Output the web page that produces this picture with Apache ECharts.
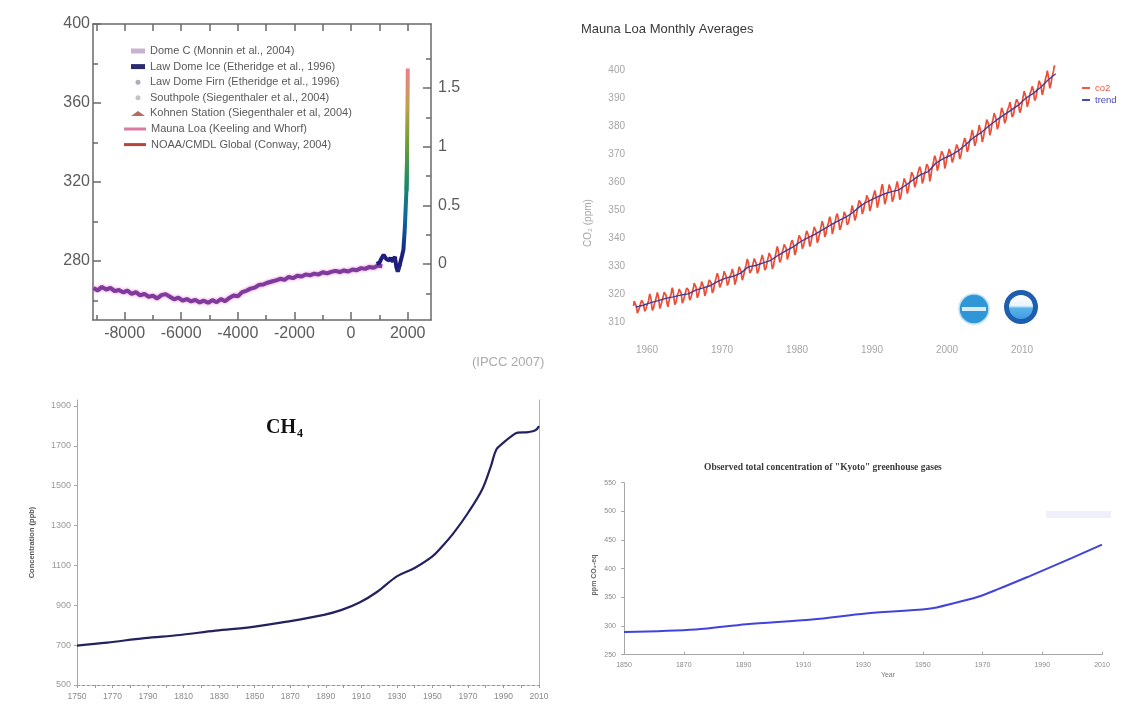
<!DOCTYPE html>
<html>
<head>
<meta charset="utf-8">
<script src="https://cdn.jsdelivr.net/npm/echarts@6/dist/echarts.min.js"></script>
<style>
html,body{margin:0;padding:0;background:#fff;}
#chart{width:1125px;height:714px;}
</style>
</head>
<body>
<div id="chart"></div>
<script>
// ---------- Holocene CO2 record (ppm) ----------
const domeC = [[-9100,266.2],[-8950,265.0],[-8800,266.8],[-8650,265.4],[-8500,266.3],[-8350,264.6],[-8200,265.2],[-8050,264.0],[-7900,264.9],[-7750,263.2],[-7600,264.1],[-7450,262.5],[-7300,263.3],[-7150,261.7],[-7000,262.4],[-6850,260.9],[-6700,262.6],[-6550,263.1],[-6400,261.8],[-6250,260.5],[-6100,261.3],[-5950,259.8],[-5800,260.6],[-5650,259.4],[-5500,260.2],[-5350,258.9],[-5200,259.8],[-5050,258.7],[-4900,260.1],[-4750,259.0],[-4600,260.6],[-4450,259.5],[-4300,261.2],[-4150,262.4],[-4000,262.0],[-3850,264.1],[-3700,264.8],[-3550,265.9],[-3400,266.4],[-3250,267.8],[-3100,268.0],[-2950,268.9],[-2800,269.5],[-2650,270.1],[-2500,270.9],[-2350,270.3],[-2200,271.8],[-2050,271.2],[-1900,272.4],[-1750,272.0],[-1600,273.1],[-1450,272.6],[-1300,273.5],[-1150,273.0],[-1000,274.2],[-850,273.6],[-700,274.4],[-550,274.9],[-400,274.3],[-250,275.1],[-100,274.6],[50,275.6],[200,275.2],[350,276.3],[500,275.9],[650,276.9],[800,276.5],[950,277.6],[1100,277.2]];
const lawDomeIce = [[900,278.4],[1000,279.0],[1050,280.5],[1100,281.8],[1150,283.0],[1200,282.0],[1250,280.8],[1300,281.6],[1350,280.2],[1400,281.5],[1450,279.8],[1500,280.9],[1550,282.1],[1600,276.8],[1650,274.5],[1700,276.9],[1750,277.4],[1800,282.6],[1850,285.6],[1900,296.8],[1940,310.4],[1960,316.9],[1978,331.2]];
const lawDomeFirn = [[1890,294.5],[1925,303.5],[1955,313.8],[1970,325.0],[1985,344.5],[1993,356.2]];
const southpole = [[1300,281.0],[1550,280.5],[1650,275.2],[1750,277.9]];
const kohnen = [[1150,281.9],[1450,279.6],[1700,276.1]];
const maunaLoaAnnual = [[1958,315.3],[1960,316.9],[1965,320.0],[1970,325.7],[1975,331.1],[1980,338.7],[1985,346.1],[1990,354.4],[1995,360.8],[2000,369.6],[2004,377.5]];
const noaaGlobal = [[1980,338.9],[1985,345.4],[1990,353.9],[1995,359.9],[2000,368.9],[2004,376.8]];
const holoXMajor = [-8000,-6000,-4000,-2000,0,2000];
const holoXMinor = [-9000,-7000,-5000,-3000,-1000,1000];
const holoXTop = [-9000,-8000,-7000,-6000,-5000,-4000,-3000,-2000,-1000,0,1000,2000];
const holoYMajor = [280,320,360,400];
const holoYMinor = [260,300,340,380];
const forcingMajor = [0,0.5,1,1.5];
const forcingMinor = [-0.25,0.25,0.75,1.25,1.75];

// ---------- Mauna Loa monthly means, Mar 1958 - Jun 2014 (ppm) ----------
const co2FirstMonth = 1958 + 2/12;
const co2Monthly = [
 315.71,317.45,317.50,317.10,315.86,314.93,313.20,312.66,313.33,314.67,
 315.62,316.38,316.71,317.72,318.29,318.15,316.54,314.80,313.84,313.26,314.80,315.58,
 316.43,316.97,317.58,319.02,320.03,319.59,318.18,315.91,314.16,313.83,315.00,316.19,
 316.93,317.70,318.54,319.48,320.58,319.77,318.57,316.79,314.80,315.38,316.10,317.01,
 317.94,318.56,319.68,320.63,321.01,320.55,319.58,317.40,316.26,315.42,316.69,317.69,
 318.74,319.08,319.86,321.39,322.25,321.47,319.74,317.77,316.21,315.99,317.12,318.31,
 319.57,320.07,320.73,321.77,322.25,321.89,320.44,318.70,316.70,316.79,317.79,318.71,
 319.44,320.44,320.89,322.13,322.16,321.87,321.39,318.81,317.81,317.30,318.87,319.42,
 320.62,321.59,322.39,323.87,324.01,323.75,322.39,320.37,318.64,318.10,319.79,321.08,
 322.07,322.50,323.04,324.42,325.00,324.09,322.55,320.92,319.31,319.31,320.72,321.96,
 322.57,323.15,323.89,325.02,325.57,325.36,324.14,322.03,320.41,320.25,321.31,322.84,
 324.00,324.42,325.64,326.66,327.38,326.70,325.89,323.67,322.38,321.78,322.85,324.11,
 325.03,325.99,326.87,328.13,328.07,327.66,326.35,324.69,323.10,323.16,323.98,325.13,
 326.17,326.68,327.18,327.78,328.92,328.57,327.34,325.46,323.36,323.57,324.80,326.01,
 326.77,327.63,327.75,329.72,330.07,329.09,328.05,326.32,324.93,325.06,326.50,327.55,
 328.54,329.56,330.30,331.50,332.48,332.07,330.87,329.31,327.51,327.18,328.16,328.64,
 329.35,330.71,331.48,332.65,333.20,332.16,331.07,329.12,327.32,327.28,328.30,329.58,
 330.73,331.46,331.90,333.17,333.94,333.45,331.97,329.95,328.50,328.34,329.37,330.58,
 331.59,332.75,333.52,334.64,334.77,334.00,333.06,330.68,328.95,328.75,330.15,331.62,
 332.66,333.13,334.95,336.13,336.93,336.17,334.88,332.56,331.29,331.27,332.41,333.60,
 334.95,335.25,336.66,337.69,338.03,338.01,336.41,334.41,332.37,332.41,333.75,334.90,
 336.14,336.69,338.27,338.95,339.21,339.26,337.54,335.75,333.98,334.19,335.31,336.81,
 337.90,338.34,340.01,340.93,341.48,341.33,339.40,337.70,336.19,336.15,337.27,338.32,
 339.29,340.55,341.61,342.53,343.03,342.54,340.78,338.44,336.95,337.08,338.58,339.88,
 340.96,341.73,342.81,343.97,344.63,343.79,342.32,340.09,338.28,338.29,339.60,340.90,
 341.68,342.90,343.33,345.25,346.03,345.63,344.19,342.27,340.35,340.38,341.59,343.05,
 344.10,344.79,345.52,346.84,347.63,346.97,345.53,343.55,341.40,341.67,343.10,344.70,
 345.21,346.16,347.74,348.33,348.73,348.16,346.48,344.70,342.92,342.62,344.06,345.38,
 346.11,346.78,347.68,349.37,350.03,349.37,347.76,345.73,344.68,343.99,345.48,346.72,
 347.84,348.29,349.23,350.80,351.66,351.07,349.33,347.92,346.27,346.18,347.64,348.78,
 350.25,351.54,352.05,353.41,354.04,353.62,352.22,350.27,348.55,348.72,349.91,351.18,
 352.60,352.92,353.53,355.26,355.52,354.97,353.75,351.52,349.64,349.83,351.14,352.37,
 353.50,354.55,355.23,356.04,357.00,356.07,354.67,352.76,350.82,351.04,352.69,354.07,
 354.59,355.63,357.03,358.48,359.22,358.12,356.06,353.92,352.05,352.11,353.64,354.89,
 355.88,356.63,357.72,359.07,359.58,359.17,356.94,354.92,352.94,353.23,354.09,355.33,
 356.63,357.10,358.32,359.41,360.23,359.55,357.53,355.48,353.67,353.95,355.30,356.78,
 358.34,358.89,359.95,361.25,361.67,360.94,359.55,357.49,355.84,356.00,357.59,359.05,
 359.98,361.03,361.66,363.48,363.82,363.30,361.94,359.50,358.11,357.80,359.61,360.74,
 362.09,363.29,364.06,364.76,365.45,365.01,363.70,361.54,359.51,359.65,360.80,362.38,
 363.23,364.06,364.61,366.40,366.84,365.68,364.52,362.57,360.24,360.83,362.49,364.34,
 365.27,365.98,367.24,368.66,369.42,368.99,367.82,365.95,364.02,364.40,365.52,367.13,
 368.18,369.07,369.68,370.99,370.96,370.30,369.45,366.90,364.81,365.37,366.72,368.10,
 369.29,369.54,370.60,371.82,371.58,371.70,369.86,368.13,367.00,367.03,368.37,369.67,
 370.59,371.51,372.43,373.37,373.85,373.22,371.50,369.61,368.18,368.45,369.76,371.24,
 372.53,373.20,374.12,375.02,375.76,375.52,374.01,371.85,370.75,370.55,372.25,373.79,
 374.88,375.64,376.45,377.73,378.60,377.96,376.28,374.23,372.95,373.08,374.39,375.96,
 377.00,377.87,378.88,380.35,380.62,379.69,377.47,376.01,374.25,374.46,376.16,377.51,
 378.46,379.73,380.77,382.29,382.45,382.21,380.74,378.74,376.70,377.00,378.35,380.11,
 381.38,382.19,382.67,384.61,385.03,384.05,382.46,380.41,378.85,379.13,380.15,381.82,
 382.89,383.90,384.58,386.50,386.56,386.10,384.50,381.99,380.96,381.12,382.45,383.95,
 385.52,385.82,386.03,387.21,388.54,387.76,386.36,384.09,383.18,382.99,384.19,385.56,
 386.94,387.48,388.82,389.55,390.14,389.48,388.03,386.11,384.74,384.43,386.02,387.42,
 388.71,390.20,391.17,392.46,393.00,392.15,390.20,388.35,386.85,387.24,388.67,389.79,
 391.33,391.86,392.60,393.25,394.19,393.74,392.51,390.13,389.08,389.00,390.28,391.86,
 393.12,393.86,394.40,396.18,396.74,395.71,394.36,392.39,391.11,391.05,392.98,394.34,
 395.55,396.80,397.43,398.41,399.78,398.60,397.32,395.20,393.45,393.70,395.16,396.84,
 397.85,398.01,399.77,401.38,401.78,401.25
];
const trendFirstYear = 1958;
const co2Trend = [315.3,315.98,316.91,317.64,318.45,318.99,319.62,320.04,321.37,322.18,323.05,324.62,325.68,326.32,327.45,329.68,330.18,331.11,332.04,333.83,335.40,336.84,338.75,340.11,341.45,343.05,344.65,346.12,347.42,349.19,351.57,353.12,354.39,355.61,356.45,357.10,358.83,360.82,362.61,363.73,366.70,368.38,369.55,371.14,373.28,375.80,377.52,379.80,381.90,383.79,385.60,387.43,389.90,391.65,393.85,396.52,398.65];
const mloYTicks = [310,320,330,340,350,360,370,380,390,400];
const mloXTicks = [1960,1970,1980,1990,2000,2010];

// ---------- Methane (ppb) ----------
const ch4Years  = [1750,1767,1788,1808,1828,1848,1869,1889,1899,1909,1919,1930,1940,1950,1956,1962,1970,1978,1983,1986,1990,1994,1998,2004,2008,2010];
const ch4Values = [698,713,735,751,773,790,819,852,877,914,968,1045,1087,1145,1200,1263,1363,1481,1600,1682,1716,1745,1766,1769,1778,1799];
const ch4YTicks = [500,700,900,1100,1300,1500,1700,1900];
const ch4XTicks = [1750,1770,1790,1810,1830,1850,1870,1890,1910,1930,1950,1970,1990,2010];
const ch4XMinor = [1760,1780,1800,1820,1840,1860,1880,1900,1920,1940,1960,1980,2000];

// ---------- Kyoto gases, CO2-equivalent (ppm) ----------
const kyotoYears  = [1850,1874,1891,1913,1931,1952,1961,1968,1975,1986,1993,2000,2010];
const kyotoValues = [289.4,293.8,303.1,311.3,321.9,330.0,340.6,350.0,363.8,387.5,403.0,418.8,441.9];
const kyotoYTicks = [250,300,350,400,450,500,550];
const kyotoXTicks = [1850,1870,1890,1910,1930,1950,1970,1990,2010];

// ---------- build ----------
const SANS = 'Liberation Sans, Arial, sans-serif';
const SERIF = 'Liberation Serif, Times New Roman, serif';
const zip = (xs, ys) => xs.map((x, i) => [x, ys[i]]);
const plain = v => String(v);
const co2Data = co2Monthly.map((v, i) => [co2FirstMonth + (i + 0.5) / 12, v]);
const trendData = co2Trend.map((v, i) => [trendFirstYear + i + 0.5, v]);

const frame = '#6a6a6a';
const frameLine = {onZero: false, lineStyle: {color: frame, width: 1.5}};
const holoLabel = {fontSize: 16, color: '#5c5c5c', fontFamily: SANS, formatter: plain};
const none = {show: false};

function ax(o) {
  return Object.assign({type: 'value', splitLine: none, axisLine: {show: false, onZero: false}}, o);
}

const option = {
  animation: false,
  backgroundColor: '#ffffff',
  textStyle: {fontFamily: SANS},
  grid: [
    {left: 93, top: 24, width: 338, height: 296, outerBoundsMode: 'none'},
    {left: 632, top: 56, width: 427.5, height: 280, outerBoundsMode: 'none'},
    {left: 77, top: 400, width: 462, height: 285, outerBoundsMode: 'none'},
    {left: 624, top: 482.7, width: 478, height: 171.9, outerBoundsMode: 'none'}
  ],
  xAxis: [
    ax({gridIndex: 0, min: -9116, max: 2824, position: 'bottom', axisLine: frameLine,
        axisTick: {inside: true, length: 8, customValues: holoXMajor, lineStyle: {color: frame, width: 1.5}},
        axisLabel: Object.assign({customValues: holoXMajor, margin: 6}, holoLabel)}),
    ax({gridIndex: 0, min: -9116, max: 2824, position: 'bottom',
        axisTick: {inside: true, length: 5, customValues: holoXMinor, lineStyle: {color: frame, width: 1.5}},
        axisLabel: none}),
    ax({gridIndex: 0, min: -9116, max: 2824, position: 'top', axisLine: frameLine,
        axisTick: {inside: true, length: 7, customValues: holoXTop, lineStyle: {color: frame, width: 1.5}},
        axisLabel: none}),
    ax({gridIndex: 1, min: 1958, max: 2015, axisTick: none,
        axisLabel: {customValues: mloXTicks, fontSize: 10, color: '#a6a6a6', margin: 9, formatter: plain}}),
    ax({gridIndex: 2, min: 1750, max: 2010,
        axisLine: {show: true, onZero: false, lineStyle: {color: '#9a9a9a', width: 1, type: [3, 2]}},
        axisTick: {show: true, length: 3, customValues: ch4XMinor.concat(ch4XTicks), lineStyle: {color: '#9a9a9a'}},
        axisLabel: {customValues: ch4XTicks, fontSize: 8.5, color: '#8a8a8a', margin: 7, formatter: plain}}),
    ax({gridIndex: 3, min: 1850, max: 2010,
        axisLine: {show: true, onZero: false, lineStyle: {color: '#a8a8a8', width: 1}},
        axisTick: {show: true, inside: true, length: 3, customValues: kyotoXTicks, lineStyle: {color: '#a8a8a8'}},
        axisLabel: {customValues: kyotoXTicks, fontSize: 7, color: '#8a8a8a', margin: 7, formatter: plain}})
  ],
  yAxis: [
    ax({gridIndex: 0, min: 250, max: 400, position: 'left', axisLine: frameLine,
        axisTick: {inside: true, length: 8, customValues: holoYMajor, lineStyle: {color: frame, width: 1.5}},
        axisLabel: Object.assign({customValues: holoYMajor, margin: 3}, holoLabel)}),
    ax({gridIndex: 0, min: 250, max: 400, position: 'left',
        axisTick: {inside: true, length: 5, customValues: holoYMinor, lineStyle: {color: frame, width: 1.5}},
        axisLabel: none}),
    ax({gridIndex: 0, min: -0.477, max: 2.046, position: 'right', axisLine: frameLine,
        axisTick: {inside: true, length: 8, customValues: forcingMajor, lineStyle: {color: frame, width: 1.5}},
        axisLabel: Object.assign({customValues: forcingMajor, margin: 7}, holoLabel)}),
    ax({gridIndex: 0, min: -0.477, max: 2.046, position: 'right',
        axisTick: {inside: true, length: 5, customValues: forcingMinor, lineStyle: {color: frame, width: 1.5}},
        axisLabel: none}),
    ax({gridIndex: 1, min: 305, max: 405, axisTick: none,
        axisLabel: {customValues: mloYTicks, fontSize: 10, color: '#a6a6a6', margin: 7, formatter: plain}}),
    ax({gridIndex: 2, min: 500, max: 1930, position: 'left',
        axisLine: {show: true, onZero: false, lineStyle: {color: '#a8a8a8', width: 1}},
        axisTick: {show: true, length: 3, customValues: ch4YTicks, lineStyle: {color: '#a8a8a8'}},
        axisLabel: {customValues: ch4YTicks, fontSize: 9, color: '#9a9a9a', margin: 6, formatter: plain},
        name: 'Concentration (ppb)', nameLocation: 'middle', nameGap: 41,
        nameTextStyle: {fontSize: 7.5, fontWeight: 'bold', color: '#555'}}),
    ax({gridIndex: 2, min: 500, max: 1930, position: 'right',
        axisLine: {show: true, onZero: false, lineStyle: {color: '#b0b0b0', width: 1}},
        axisTick: none, axisLabel: none}),
    ax({gridIndex: 3, min: 250, max: 550, position: 'left',
        axisLine: {show: true, onZero: false, lineStyle: {color: '#a8a8a8', width: 1}},
        axisTick: {show: true, length: 3, customValues: kyotoYTicks, lineStyle: {color: '#a8a8a8'}},
        axisLabel: {customValues: kyotoYTicks, fontSize: 7, color: '#8a8a8a', margin: 8, formatter: plain}})
  ],
  visualMap: {
    type: 'continuous', show: false, seriesIndex: [1, 2, 5, 6], dimension: 1,
    min: 282, max: 378,
    inRange: {color: ['#1c1c7e', '#0a6aa0', '#1d8c62', '#6f9d35', '#c0a050', '#f27c8c']}
  },
  legend: [
    {
      orient: 'vertical', left: 131, top: 45, padding: 0, itemGap: 3.6,
      itemWidth: 14, itemHeight: 5, selectedMode: false,
      textStyle: {fontSize: 11, lineHeight: 12, color: '#5a5a5a'},
      data: [
        {name: 'Dome C (Monnin et al., 2004)', icon: 'rect', itemStyle: {color: '#c7b3cf'}},
        {name: 'Law Dome Ice (Etheridge et al., 1996)', icon: 'rect', itemStyle: {color: '#2b2b72'}},
        {name: 'Law Dome Firn (Etheridge et al., 1996)', icon: 'circle', itemStyle: {color: '#9a9aaa'}},
        {name: 'Southpole (Siegenthaler et al., 2004)', icon: 'circle', itemStyle: {color: '#b4b4c2'}},
        {name: 'Kohnen Station (Siegenthaler et al, 2004)', icon: 'triangle', itemStyle: {color: '#a04a3a'}}
      ]
    },
    {
      orient: 'vertical', left: 124, top: 123, padding: 0, itemGap: 3.6,
      itemWidth: 22, itemHeight: 3, symbolKeepAspect: false, selectedMode: false,
      textStyle: {fontSize: 11, lineHeight: 12, color: '#5a5a5a'},
      data: [
        {name: 'Mauna Loa (Keeling and Whorf)', icon: 'rect', itemStyle: {color: '#d97aa4'}},
        {name: 'NOAA/CMDL Global (Conway, 2004)', icon: 'rect', itemStyle: {color: '#b8453c'}}
      ]
    },
    {
      orient: 'vertical', left: 1082, top: 82.5, padding: 0, itemGap: 1,
      itemWidth: 8, itemHeight: 2, symbolKeepAspect: false, selectedMode: false,
      textStyle: {fontSize: 9.5, lineHeight: 11},
      data: [
        {name: 'co2', icon: 'rect', itemStyle: {color: '#ee5a40'}, textStyle: {color: '#e8563f'}},
        {name: 'trend', icon: 'rect', itemStyle: {color: '#4a4ab4'}, textStyle: {color: '#4848b8'}}
      ]
    }
  ],
  title: [
    {text: 'Mauna Loa Monthly Averages', left: 581, top: 23, padding: 0,
     textStyle: {fontSize: 13, fontWeight: 'normal', color: '#3a3a3a', fontFamily: SANS}},
    {text: 'Observed total concentration of "Kyoto" greenhouse gases', left: 704, top: 463, padding: 0,
     textStyle: {fontSize: 9.5, fontWeight: 'bold', color: '#3a3a3a', fontFamily: SERIF}}
  ],
  series: [
    {name: 'Dome C (Monnin et al., 2004)', type: 'line', xAxisIndex: 0, yAxisIndex: 0, data: domeC,
     symbol: 'none', z: 3, itemStyle: {color: '#7d3b9c'},
     lineStyle: {color: '#7d3b9c', width: 4, shadowColor: 'rgba(230,110,205,0.9)', shadowBlur: 3}},
    {name: 'Law Dome Ice (Etheridge et al., 1996)', type: 'line', xAxisIndex: 0, yAxisIndex: 0, data: lawDomeIce,
     symbol: 'none', z: 4, itemStyle: {color: '#2b2b72'}, lineStyle: {width: 4}},
    {name: 'Law Dome Firn (Etheridge et al., 1996)', type: 'scatter', xAxisIndex: 0, yAxisIndex: 0, data: lawDomeFirn,
     symbolSize: 3, z: 5, itemStyle: {color: '#9a9aaa'}},
    {name: 'Southpole (Siegenthaler et al., 2004)', type: 'scatter', xAxisIndex: 0, yAxisIndex: 0, data: southpole,
     symbolSize: 3, z: 5, itemStyle: {color: '#27277a'}},
    {name: 'Kohnen Station (Siegenthaler et al, 2004)', type: 'scatter', xAxisIndex: 0, yAxisIndex: 0, data: kohnen,
     symbol: 'triangle', symbolSize: 3, z: 5, itemStyle: {color: '#2e2e8a'}},
    {name: 'Mauna Loa (Keeling and Whorf)', type: 'line', xAxisIndex: 0, yAxisIndex: 0, data: maunaLoaAnnual,
     symbol: 'none', z: 6, itemStyle: {color: '#d97aa4'}, lineStyle: {width: 4}},
    {name: 'NOAA/CMDL Global (Conway, 2004)', type: 'line', xAxisIndex: 0, yAxisIndex: 0, data: noaaGlobal,
     symbol: 'none', z: 7, itemStyle: {color: '#b8453c'}, lineStyle: {width: 2}},

    {name: 'co2', type: 'line', xAxisIndex: 3, yAxisIndex: 4, data: co2Data, symbol: 'none', z: 3,
     itemStyle: {color: '#ee5a40'}, lineStyle: {color: '#ea4e36', width: 1.7}},
    {name: 'trend', type: 'line', xAxisIndex: 3, yAxisIndex: 4, data: trendData, symbol: 'none', z: 4,
     itemStyle: {color: '#4a4ab4'}, lineStyle: {color: '#3d3d9e', width: 1.4}},

    {name: 'CH4', type: 'line', xAxisIndex: 4, yAxisIndex: 5, data: zip(ch4Years, ch4Values),
     symbol: 'none', smooth: 0.35, z: 3,
     itemStyle: {color: '#1e1e5e'}, lineStyle: {color: '#22225f', width: 2.2}},

    {name: 'Kyoto', type: 'line', xAxisIndex: 5, yAxisIndex: 7, data: zip(kyotoYears, kyotoValues),
     symbol: 'none', smooth: 0.3, z: 3,
     itemStyle: {color: '#4242dc'}, lineStyle: {color: '#4242dc', width: 2}}
  ],
  graphic: [
    {type: 'text', x: 472, y: 362, silent: true,
     style: {text: '(IPCC 2007)', fontSize: 13, fontFamily: SANS, fill: '#ababab', verticalAlign: 'middle'}},
    {type: 'text', x: 588, y: 223, rotation: Math.PI / 2, silent: true,
     style: {text: 'CO₂ (ppm)', fontSize: 10, fontFamily: SANS, fill: '#a6a6a6', align: 'center', verticalAlign: 'middle'}},
    // agency badges
    {type: 'circle', silent: true, shape: {cx: 974, cy: 309, r: 15},
     style: {fill: '#2f96d8', stroke: '#bfe0f4', lineWidth: 1.5}},
    {type: 'rect', silent: true, shape: {x: 962, y: 307, width: 24, height: 4},
     style: {fill: '#d6ecf9'}},
    {type: 'circle', silent: true, shape: {cx: 1021, cy: 307, r: 17},
     style: {fill: '#1d5eae'}},
    {type: 'circle', silent: true, shape: {cx: 1021, cy: 307, r: 12},
     style: {fill: {type: 'linear', x: 0, y: 0, x2: 0, y2: 1,
       colorStops: [{offset: 0, color: '#ffffff'}, {offset: 0.45, color: '#e8f4fc'}, {offset: 0.55, color: '#5ab4ea'}, {offset: 1, color: '#3f9ce0'}]}}},
    // methane title
    {type: 'text', x: 266, y: 428, silent: true,
     style: {text: 'CH', fontSize: 20, fontWeight: 'bold', fontFamily: SERIF, fill: '#111', verticalAlign: 'middle'}},
    {type: 'text', x: 297, y: 434, silent: true,
     style: {text: '4', fontSize: 12, fontWeight: 'bold', fontFamily: SERIF, fill: '#111', verticalAlign: 'middle'}},
    // kyoto axis names
    {type: 'text', x: 594, y: 575, rotation: Math.PI / 2, silent: true,
     style: {text: 'ppm CO₂-eq', fontSize: 7, fontWeight: 'bold', fontFamily: SANS, fill: '#666', align: 'center', verticalAlign: 'middle'}},
    {type: 'text', x: 888, y: 675, silent: true,
     style: {text: 'Year', fontSize: 7, fontFamily: SANS, fill: '#777', align: 'center', verticalAlign: 'middle'}},
    {type: 'rect', silent: true, shape: {x: 1046, y: 511, width: 65, height: 7},
     style: {fill: 'rgba(195,195,245,0.25)'}}
  ]
};

const chart = echarts.init(document.getElementById('chart'), null, {renderer: 'canvas'});
chart.setOption(option);
</script>
</body>
</html>
